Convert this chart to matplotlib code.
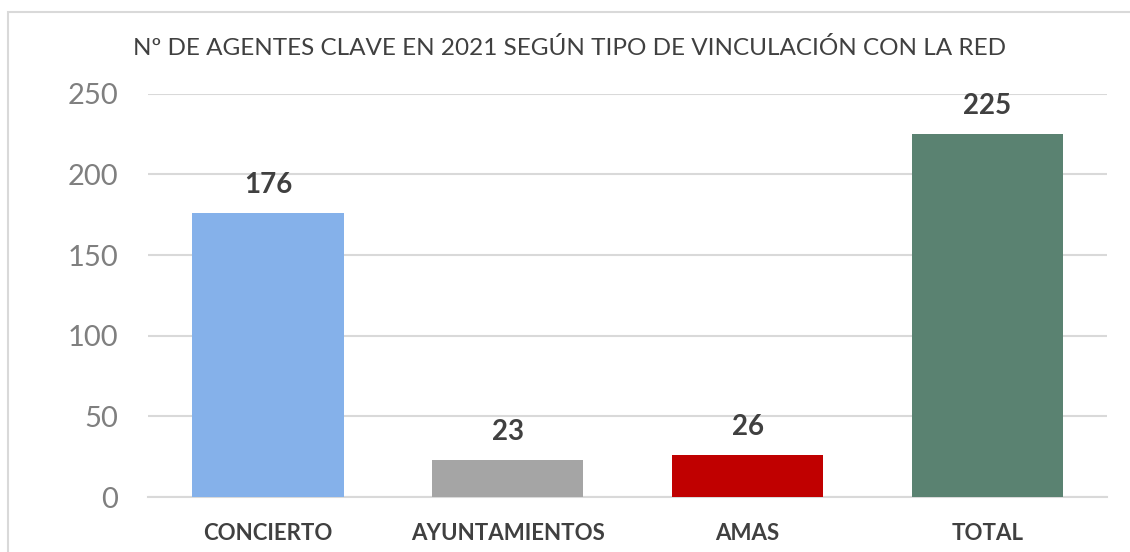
import matplotlib.pyplot as plt
from matplotlib.patches import Rectangle

categories = ['CONCIERTO', 'AYUNTAMIENTOS', 'AMAS', 'TOTAL']
values = [176, 23, 26, 225]
colors = ['#85b1ea', '#a5a5a5', '#c00000', '#5a8271']
yticks = [0, 50, 100, 150, 200, 250]

plt.rcParams['font.family'] = ['Lato', 'DejaVu Sans']

fig = plt.figure(figsize=(11.3, 5.52), dpi=100)
ax = fig.add_axes([0.131, 0.0996, 0.849, 0.7305])

x = range(len(categories))
bars = ax.bar(x, values, width=0.63, color=colors, zorder=3)

for b, v in zip(bars, values):
    ax.annotate(str(v), (b.get_x() + b.get_width() / 2, v),
                xytext=(0, 11), textcoords='offset points',
                ha='center', va='bottom', fontsize=20, fontweight='bold',
                color='#404040')

ax.set_xlim(-0.5, len(categories) - 0.5)
ax.set_ylim(0, 250)
ax.set_yticks(yticks)
ax.set_yticklabels([str(t) for t in yticks], fontsize=21, color='#7f7f7f')
ax.set_xticks(list(x))
ax.set_xticklabels(categories, fontsize=16, fontweight='bold', color='#404040')
ax.tick_params(axis='both', length=0)
ax.tick_params(axis='y', pad=21.5)
ax.tick_params(axis='x', pad=19)
ax.grid(axis='y', color='#d9d9d9', linewidth=1.5, zorder=0)
for s in ['top', 'right', 'left']:
    ax.spines[s].set_visible(False)
ax.spines['bottom'].set_color('#d9d9d9')
ax.spines['bottom'].set_linewidth(1.5)

fig.text(0.504, 0.913, 'Nº DE AGENTES CLAVE EN 2021 SEGÚN TIPO DE VINCULACIÓN CON LA RED',
         ha='center', va='center', fontsize=17.5, color='#404040')

fig.patches.append(Rectangle((0.0071, -0.05), 1.1, 0.028 + 0.05 + 0.95,
                             transform=fig.transFigure, fill=False,
                             edgecolor='#d9d9d9', linewidth=1.5))

fig.savefig('out.png', dpi=100)
